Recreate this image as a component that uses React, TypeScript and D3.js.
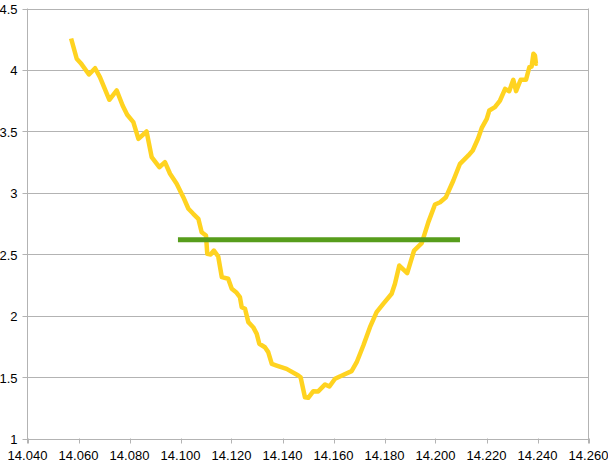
import React from "react";
import * as d3 from "d3";

const xValues: number[] = [
  14.0571, 14.0593, 14.0609, 14.0641, 14.0665, 14.0684, 14.0721, 14.075, 14.0773, 14.0791,
  14.0815, 14.0835, 14.0867, 14.0887, 14.0917, 14.0939, 14.0959, 14.0985, 14.1011, 14.1031,
  14.105, 14.107, 14.1083, 14.11, 14.1105, 14.1118, 14.1131, 14.1148, 14.1162, 14.1187,
  14.1201, 14.1218, 14.1233, 14.124, 14.1253, 14.1266, 14.1285, 14.1299, 14.1309, 14.1331,
  14.1344, 14.1358, 14.1377, 14.1416, 14.1462, 14.1471, 14.1488, 14.1501, 14.1521, 14.154,
  14.1567, 14.1584, 14.1606, 14.1625, 14.1671, 14.1691, 14.1717, 14.1743, 14.1769, 14.1795,
  14.1828, 14.1841, 14.1858, 14.1889, 14.1916, 14.1946, 14.1972, 14.1998, 14.2018, 14.2041,
  14.207, 14.2096, 14.2129, 14.2146, 14.2167, 14.2182, 14.2201, 14.2211, 14.2233, 14.2253,
  14.2273, 14.2289, 14.2305, 14.2316, 14.2334, 14.2355, 14.2368, 14.2377, 14.2384, 14.239,
  14.2394, 14.2399,
];

const yValues: number[] = [
  4.256, 4.091, 4.055, 3.963, 4.014, 3.941, 3.757, 3.833, 3.71, 3.635,
  3.575, 3.439, 3.499, 3.29, 3.208, 3.249, 3.155, 3.073, 2.964, 2.87,
  2.829, 2.788, 2.679, 2.652, 2.503, 2.498, 2.53, 2.481, 2.313, 2.3,
  2.219, 2.191, 2.15, 2.069, 2.056, 1.947, 1.906, 1.852, 1.771, 1.743,
  1.703, 1.608, 1.594, 1.567, 1.513, 1.499, 1.336, 1.331, 1.385, 1.383,
  1.44, 1.423, 1.486, 1.505, 1.548, 1.621, 1.757, 1.906, 2.028, 2.096,
  2.178, 2.259, 2.408, 2.346, 2.53, 2.59, 2.761, 2.905, 2.923, 2.964,
  3.1, 3.236, 3.304, 3.344, 3.442, 3.531, 3.602, 3.67, 3.697, 3.751,
  3.846, 3.827, 3.92, 3.827, 3.92, 3.92, 4.022, 4.028, 4.131, 4.117,
  4.05, 4.055,
];

const levelX: number[] = [14.099, 14.2096];
const levelY: number[] = [2.617, 2.617];

const xTicks: number[] = [14.04, 14.06, 14.08, 14.1, 14.12, 14.14, 14.16, 14.18, 14.2, 14.22, 14.24, 14.26];
const yTicks: number[] = [1, 1.5, 2, 2.5, 3, 3.5, 4, 4.5];

const W = 608;
const H = 463;
const left = 27.5;
const right = 588.5;
const top = 8.5;
const bottom = 438.5;

export default function App() {
  const x = d3.scaleLinear().domain([14.04, 14.26]).range([left, right]);
  const y = d3.scaleLinear().domain([1, 4.5]).range([bottom, top]);

  const pts: [number, number][] = xValues.map((v, i) => [v, yValues[i]]);
  const line = d3
    .line<[number, number]>()
    .x((d) => x(d[0]))
    .y((d) => y(d[1]));
  const level: [number, number][] = levelX.map((v, i) => [v, levelY[i]]);

  const font = "'Liberation Sans Narrow', 'Arial Narrow', 'Liberation Sans', Arial, sans-serif";
  const grid = "#b3b3b3";

  return (
    <svg
      width={W}
      height={H}
      style={{ position: "absolute", left: 0, top: 0, display: "block", background: "#fff" }}
    >
      <rect x={0} y={0} width={W} height={H} fill="#fff" />
      {yTicks.map((t) => (
        <g key={"y" + t}>
          <line x1={left - 5} x2={right} y1={Math.round(y(t)) + 0.5} y2={Math.round(y(t)) + 0.5} stroke={grid} strokeWidth={1} />
          <text
            x={17.5}
            y={y(t) + 5.5}
            textAnchor="end"
            fontFamily={font}
            fontSize={13}
            fill="#000"
          >
            {String(t)}
          </text>
        </g>
      ))}
      <line x1={left} x2={left} y1={top} y2={bottom + 5} stroke={grid} strokeWidth={1} />
      <line x1={right} x2={right} y1={top} y2={bottom + 5} stroke={grid} strokeWidth={1} />
      {xTicks.map((t) => (
        <g key={"x" + t}>
          <line x1={Math.round(x(t)) + 0.5} x2={Math.round(x(t)) + 0.5} y1={bottom} y2={bottom + 5} stroke={grid} strokeWidth={1} />
          <text
            x={x(t)}
            y={460}
            textAnchor="middle"
            fontFamily={font}
            fontSize={13}
            fill="#000"
          >
            {t.toFixed(3)}
          </text>
        </g>
      ))}
      <path
        d={line(pts) || ""}
        fill="none"
        stroke="#ffd320"
        strokeWidth={4.5}
        strokeLinejoin="round"
        strokeLinecap="butt"
      />
      <path d={line(level) || ""} fill="none" stroke="#579d1c" strokeWidth={5} />
    </svg>
  );
}
